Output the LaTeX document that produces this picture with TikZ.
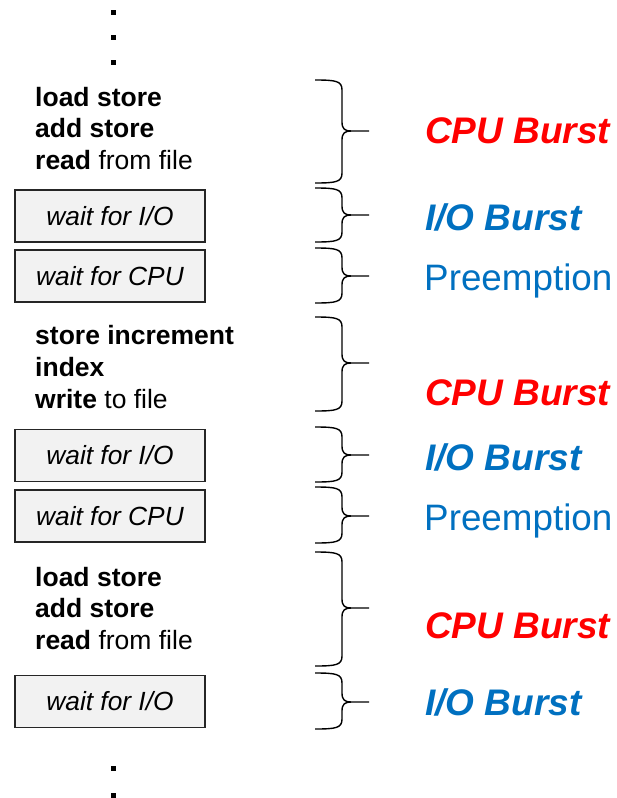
\documentclass[tikz,border=0pt]{standalone}
\usepackage{fontspec}
\setmainfont{Liberation Sans}
\definecolor{cpured}{HTML}{FF0000}
\definecolor{ioblue}{HTML}{0070C0}
\definecolor{boxfill}{HTML}{F2F2F2}
\newcommand\curlybr[3]{%
  \draw[bracestyle] (315,#1) .. controls (336,#1) and (342,#1+1) .. (342,#1+10)
    -- (342,#2-9) .. controls (342,#2-2) and (345,#2) .. (351,#2) -- (369,#2);
  \draw[bracestyle] (351,#2) .. controls (345,#2) and (342,#2+2) .. (342,#2+9)
    -- (342,#3-10) .. controls (342,#3-1) and (336,#3) .. (315,#3);
}
\tikzset{
  codeline/.style={anchor=base west, inner sep=0pt, font=\fontsize{26.5}{31}\selectfont},
  waitbox/.style={draw=black!85, line width=1.4pt, fill=boxfill, minimum width=190pt,
    minimum height=52pt, inner sep=0pt, font=\fontsize{26.3}{31}\selectfont\itshape},
  cpulabel/.style={anchor=base west, inner sep=0pt, text=cpured,
    font=\fontsize{37}{40}\selectfont\bfseries\itshape},
  iolabel/.style={anchor=base west, inner sep=0pt, text=ioblue,
    font=\fontsize{37}{40}\selectfont\bfseries\itshape},
  prelabel/.style={anchor=base west, inner sep=0pt, text=ioblue,
    font=\fontsize{36.8}{40}\selectfont},
  bracestyle/.style={line width=1.4pt, black},
  dotmark/.style={fill=black}
}
\begin{document}
\begin{tikzpicture}[x=1pt,y=-1pt]
\useasboundingbox (0,0) rectangle (617,798);
% dots
\foreach \yy in {12,37,62,768,795}
  \fill[dotmark] (110.5,\yy-2.5) rectangle (115.5,\yy+2.5);
% group 1
\node[codeline] (l1) at (35,106) {\textbf{load store}};
\node[codeline] (l2) at (35,137.5) {\textbf{add store}};
\node[codeline] (l3) at (35,169) {\textbf{read} from file};
\node[waitbox] (b1) at (110,216) {wait for I/O};
\node[waitbox] (b2) at (110,276) {wait for CPU};
% group 2
\node[codeline] (l4) at (35,344) {\textbf{store increment}};
\node[codeline] (l5) at (35,376) {\textbf{index}};
\node[codeline] (l6) at (35,408) {\textbf{write} to file};
\node[waitbox] (b3) at (110,455.5) {wait for I/O};
\node[waitbox] (b4) at (110,516) {wait for CPU};
% group 3
\node[codeline] (l7) at (35,586) {\textbf{load store}};
\node[codeline] (l8) at (35,617.5) {\textbf{add store}};
\node[codeline] (l9) at (35,649) {\textbf{read} from file};
\node[waitbox] (b5) at (110,701.5) {wait for I/O};
% braces
\curlybr{80}{131}{183}
\curlybr{188}{215}{242}
\curlybr{248}{276}{303}
\curlybr{317}{363}{411}
\curlybr{427}{455}{482}
\curlybr{487}{516}{543}
\curlybr{552}{608}{666}
\curlybr{673}{702}{729}
% labels
\node[cpulabel] (c1) at (425,143) {CPU Burst};
\node[iolabel] (i1) at (425,230) {I/O Burst};
\node[prelabel] (p1) at (424,290) {Preemption};
\node[cpulabel] (c2) at (425,405) {CPU Burst};
\node[iolabel] (i2) at (425,470) {I/O Burst};
\node[prelabel] (p2) at (424,530) {Preemption};
\node[cpulabel] (c3) at (425,638) {CPU Burst};
\node[iolabel] (i3) at (425,715) {I/O Burst};
\end{tikzpicture}
\end{document}
